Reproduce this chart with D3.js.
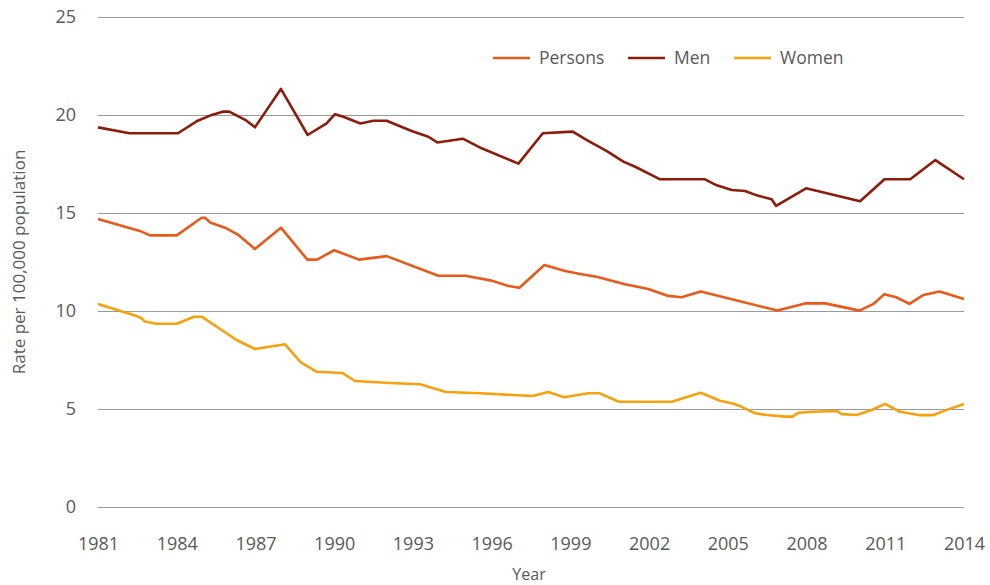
<!DOCTYPE html>
<html>
<head>
<meta charset="utf-8">
<script src="https://cdn.jsdelivr.net/npm/d3@7"></script>
<style>
  body { margin: 0; background: #fff; }
  svg text { font-family: "Open Sans", sans-serif; fill: #595959; }
</style>
</head>
<body>
<div id="chart"></div>
<script>
// values (decimal years, rate per 100,000)
const menYears = [1981, 1982.2, 1984.05, 1984.8, 1985.27, 1985.75, 1986, 1986.66, 1986.98, 1987.97, 1988.99, 1989.71, 1990.03, 1990.35, 1991, 1991.49, 1992, 1992.95, 1993.59, 1993.93, 1994.9, 1995.62, 1997.02, 1997.95, 1999.09, 1999.63, 2000.39, 2001.02, 2001.47, 2002.42, 2004.13, 2004.58, 2005.15, 2005.66, 2006.1, 2006.67, 2006.84, 2007.98, 2010.04, 2010.97, 2011.95, 2012.91, 2014];
const menRate = [19.37, 19.07, 19.07, 19.71, 19.97, 20.17, 20.17, 19.71, 19.37, 21.33, 18.98, 19.57, 20.04, 19.91, 19.57, 19.71, 19.71, 19.18, 18.89, 18.6, 18.79, 18.3, 17.52, 19.07, 19.15, 18.72, 18.16, 17.62, 17.36, 16.72, 16.72, 16.41, 16.17, 16.12, 15.9, 15.7, 15.36, 16.26, 15.6, 16.72, 16.72, 17.7, 16.72];

const personsYears = [1981, 1982.66, 1982.98, 1984, 1984.95, 1985.08, 1985.27, 1985.84, 1986.35, 1986.98, 1987.97, 1988.98, 1989.35, 1990, 1990.95, 1992, 1993.97, 1994.99, 1996, 1996.64, 1997.06, 1998.01, 1998.8, 1999.37, 2000, 2001.08, 2001.97, 2002.73, 2003.24, 2003.97, 2006.89, 2007.98, 2008.71, 2010.02, 2010.55, 2010.96, 2011.42, 2011.92, 2012.46, 2013.07, 2014];
const personsRate = [14.69, 14.05, 13.86, 13.86, 14.76, 14.76, 14.52, 14.25, 13.88, 13.16, 14.25, 12.62, 12.62, 13.1, 12.62, 12.8, 11.8, 11.8, 11.55, 11.28, 11.19, 12.35, 12.04, 11.89, 11.75, 11.36, 11.12, 10.77, 10.7, 10.99, 10.02, 10.39, 10.39, 10.02, 10.36, 10.85, 10.7, 10.36, 10.82, 10.99, 10.61];

const womenYears = [1981, 1982.47, 1982.66, 1982.79, 1983.23, 1984, 1984.66, 1984.95, 1986.28, 1986.98, 1988.13, 1988.73, 1989.34, 1990.31, 1990.79, 1992.13, 1993.27, 1994.26, 1995.56, 1997.56, 1998.15, 1998.76, 1999.68, 2000.12, 2000.85, 2002.86, 2003.97, 2004.7, 2005.15, 2005.47, 2006.04, 2006.49, 2007.18, 2007.47, 2007.69, 2008.26, 2009.15, 2009.34, 2009.91, 2010.48, 2010.99, 2011.56, 2012.26, 2012.83, 2013.4, 2014];
const womenRate = [10.36, 9.74, 9.63, 9.46, 9.35, 9.35, 9.71, 9.71, 8.52, 8.06, 8.3, 7.38, 6.9, 6.84, 6.43, 6.33, 6.26, 5.87, 5.8, 5.66, 5.87, 5.6, 5.8, 5.8, 5.37, 5.37, 5.83, 5.42, 5.29, 5.15, 4.78, 4.69, 4.61, 4.61, 4.81, 4.86, 4.9, 4.74, 4.69, 4.95, 5.26, 4.86, 4.69, 4.69, 4.98, 5.26];

const xTicks = [1981, 1984, 1987, 1990, 1993, 1996, 1999, 2002, 2005, 2008, 2011, 2014];
const yTicks = [0, 5, 10, 15, 20, 25];
const seriesNames = ['Persons', 'Men', 'Women'];
const seriesColors = ['#e85a1b', '#8c1c0c', '#f6a10f'];

const width = 990, height = 585;
const margin = {t: 17, r: 26, b: 78, l: 98};
const innerW = width - margin.l - margin.r;
const innerH = height - margin.t - margin.b;

const svg = d3.select('#chart').append('svg').attr('width', width).attr('height', height);
const mainG = svg.append('g').attr('transform', `translate(${margin.l},${margin.t})`);

const xScale = d3.scaleLinear().domain([1981, 2014]).range([0, innerW]);
const yScale = d3.scaleLinear().domain([0, 25]).range([innerH, 0]);

// grid + y axis
mainG.append('g').attr('class', 'y-axis')
  .call(d3.axisLeft(yScale).tickValues(yTicks).tickSize(-innerW).tickPadding(22).tickFormat(d3.format('d')))
  .call(g => g.select('.domain').remove())
  .call(g => g.selectAll('.tick line').attr('stroke', '#9a9a9a').attr('stroke-width', 1))
  .call(g => g.selectAll('.tick text').attr('font-size', '18px').attr('font-family', '"Open Sans", sans-serif'));

// x axis
mainG.append('g').attr('class', 'x-axis')
  .attr('transform', `translate(0,${innerH})`)
  .call(d3.axisBottom(xScale).tickValues(xTicks).tickSize(0).tickPadding(30).tickFormat(d3.format('d')))
  .call(g => g.select('.domain').remove())
  .call(g => g.selectAll('.tick text').attr('font-size', '18px').attr('font-family', '"Open Sans", sans-serif'));

// axis titles
svg.append('text')
  .attr('x', 529).attr('y', 580)
  .attr('text-anchor', 'middle').attr('font-size', '16px')
  .text('Year');
svg.append('text')
  .attr('transform', `translate(25,262) rotate(-90)`)
  .attr('text-anchor', 'middle').attr('font-size', '17px')
  .text('Rate per 100,000 population');

// lines
const series = [
  {name: 'Persons', years: personsYears, vals: personsRate},
  {name: 'Men', years: menYears, vals: menRate},
  {name: 'Women', years: womenYears, vals: womenRate}
];
const color = d3.scaleOrdinal(seriesNames, seriesColors);
const line = d3.line().x(d => xScale(d[0])).y(d => yScale(d[1]));

mainG.append('g').selectAll('path').data(series).join('path')
  .attr('d', s => line(s.years.map((y, i) => [y, s.vals[i]])))
  .attr('fill', 'none')
  .attr('stroke', s => color(s.name))
  .attr('stroke-width', 2.6)
  .attr('stroke-linejoin', 'round');

// legend
const legendX = [493, 628, 734];
const legend = svg.append('g').selectAll('g').data(seriesNames).join('g')
  .attr('transform', (d, i) => `translate(${legendX[i]},58)`);
legend.append('line')
  .attr('x1', 0).attr('x2', 37).attr('y1', 0).attr('y2', 0)
  .attr('stroke', d => color(d)).attr('stroke-width', 2.6);
legend.append('text')
  .attr('x', 46).attr('y', 6).attr('font-size', '17.5px')
  .text(d => d);
</script>
</body>
</html>
